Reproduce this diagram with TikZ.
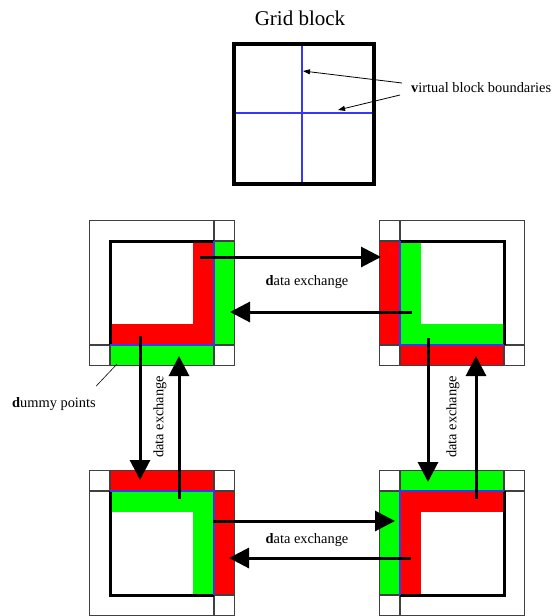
\documentclass[tikz,border=0pt]{standalone}
\usepackage{fontspec}
\setmainfont{Liberation Serif}
\usepackage{xcolor}
\usetikzlibrary{arrows.meta, positioning}

\definecolor{halored}{RGB}{255,0,0}
\definecolor{halogreen}{RGB}{0,255,0}
\definecolor{vblue}{RGB}{55,55,245}

\begin{document}
\begin{tikzpicture}[
    x=1pt, y=-1pt,
    gridline/.style={line width=4pt},
    vline/.style={draw=vblue, line width=2.2pt},
    thinbox/.style={draw=black!75, line width=1.1pt},
    inner/.style={line width=3pt, line cap=square},
    xarrow/.style={line width=3pt, -{Triangle[length=20pt, width=20pt]}},
    pointer/.style={line width=0.8pt, -{Triangle[length=7pt, width=5pt]}},
    lbl/.style={font=\fontsize{14.4}{17}\selectfont, inner sep=0pt}
]
    \useasboundingbox (0,0) rectangle (553,616);

    % Grid block
    \node[font=\fontsize{21}{25}\selectfont] (title) at (300,18) {Grid block};
    \draw[vline] (302,44) -- (302,184);
    \draw[vline] (234,113) -- (374,113);
    \draw[gridline] (234,44) rectangle (374,184);
    \coordinate (vtip) at (303,71);
    \coordinate (htip) at (338,110);
    \node[lbl, anchor=west] (virt) at (411,88) {\textbf{v}irtual block boundaries};
    \draw[pointer] ([yshift=5pt]virt.west) ++(-9,0) coordinate (v1) -- (vtip);
    \draw[pointer] ([yshift=-7pt]virt.west) ++(-11,0) coordinate (v2) -- (htip);

    % Top left block
    \begin{scope}[shift={(110,241)}]
        \fill[halored] (83,0) rectangle (104,104);
        \fill[halored] (0,83) rectangle (104,104);
        \fill[halogreen] (104,0) rectangle (124.5,104);
        \fill[halogreen] (0,104) rectangle (104,124.5);
        \draw[thinbox] (-20.5,-20.5) rectangle (124.5,124.5);
        \draw[thinbox] (104,-20.5) rectangle (124.5,0);
        \draw[thinbox] (-20.5,104) rectangle (0,124.5);
        \draw[thinbox] (104,104) rectangle (124.5,124.5);
        \draw[inner] (0,104) -- (0,0) -- (104,0);
        \draw[vline] (104,0) -- (104,104) -- (0,104);
        \coordinate (tlR) at (90,16);
        \coordinate (tlL) at (120,71);
        \coordinate (tlD) at (30,95);
        \coordinate (tlU) at (69,115);
        \coordinate (tlG) at (7,123);
    \end{scope}

    % Top right block
    \begin{scope}[shift={(400,241)}]
        \fill[halogreen] (0,0) rectangle (21,104);
        \fill[halogreen] (0,83) rectangle (104,104);
        \fill[halored] (-20.5,0) rectangle (0,104);
        \fill[halored] (0,104) rectangle (104,124.5);
        \draw[thinbox] (-20.5,-20.5) rectangle (124.5,124.5);
        \draw[thinbox] (-20.5,-20.5) rectangle (0,0);
        \draw[thinbox] (-20.5,104) rectangle (0,124.5);
        \draw[thinbox] (104,104) rectangle (124.5,124.5);
        \draw[inner] (0,0) -- (104,0) -- (104,104);
        \draw[vline] (0,0) -- (0,104) -- (104,104);
        \coordinate (trL) at (-19,16);
        \coordinate (trR) at (12,71);
        \coordinate (trD) at (28,97);
        \coordinate (trU) at (76,115);
    \end{scope}

    % Bottom left block
    \begin{scope}[shift={(110,491)}]
        \fill[halogreen] (0,0) rectangle (104,21);
        \fill[halogreen] (83,0) rectangle (104,104);
        \fill[halored] (0,-20.5) rectangle (104,0);
        \fill[halored] (104,0) rectangle (124.5,104);
        \draw[thinbox] (-20.5,-20.5) rectangle (124.5,124.5);
        \draw[thinbox] (-20.5,-20.5) rectangle (0,0);
        \draw[thinbox] (104,-20.5) rectangle (124.5,0);
        \draw[thinbox] (104,104) rectangle (124.5,124.5);
        \draw[inner] (0,0) -- (0,104) -- (104,104);
        \draw[vline] (0,0) -- (104,0) -- (104,104);
        \coordinate (blU) at (30,-11);
        \coordinate (blD) at (69,8);
        \coordinate (blR) at (103,30);
        \coordinate (blL) at (119,67);
    \end{scope}

    % Bottom right block
    \begin{scope}[shift={(400,491)}]
        \fill[halored] (0,0) rectangle (104,21);
        \fill[halored] (0,0) rectangle (21,104);
        \fill[halogreen] (0,-20.5) rectangle (104,0);
        \fill[halogreen] (-20.5,0) rectangle (0,104);
        \draw[thinbox] (-20.5,-20.5) rectangle (124.5,124.5);
        \draw[thinbox] (-20.5,-20.5) rectangle (0,0);
        \draw[thinbox] (104,-20.5) rectangle (124.5,0);
        \draw[thinbox] (-20.5,104) rectangle (0,124.5);
        \draw[inner] (104,0) -- (104,104) -- (0,104);
        \draw[vline] (104,0) -- (0,0) -- (0,104);
        \coordinate (brU) at (28,-9);
        \coordinate (brD) at (76,8);
        \coordinate (brL) at (-5,30);
        \coordinate (brR) at (11,67);
    \end{scope}

    % Data exchange arrows
    \draw[xarrow] (tlR) -- (trL);
    \draw[xarrow] (trR) -- (tlL);
    \draw[xarrow] (tlD) -- (blU);
    \draw[xarrow] (blD) -- (tlU);
    \draw[xarrow] (trD) -- (brU);
    \draw[xarrow] (brD) -- (trU);
    \draw[xarrow] (blR) -- (brL);
    \draw[xarrow] (brR) -- (blL);

    % Labels
    \node[lbl] (dxtop) at (307,282) {\textbf{d}ata exchange};
    \node[lbl] (dxbot) at (307,540) {\textbf{d}ata exchange};
    \node[lbl, rotate=90] (dxleft) at (160,417) {data exchange};
    \node[lbl, rotate=90] (dxright) at (453,417) {data exchange};
    \node[lbl] (dummy) at (54,404) {\textbf{d}ummy points};
    \draw[line width=0.6pt] (dummy.north east) ++(0,-11) coordinate (d1) -- (tlG);
\end{tikzpicture}
\end{document}
